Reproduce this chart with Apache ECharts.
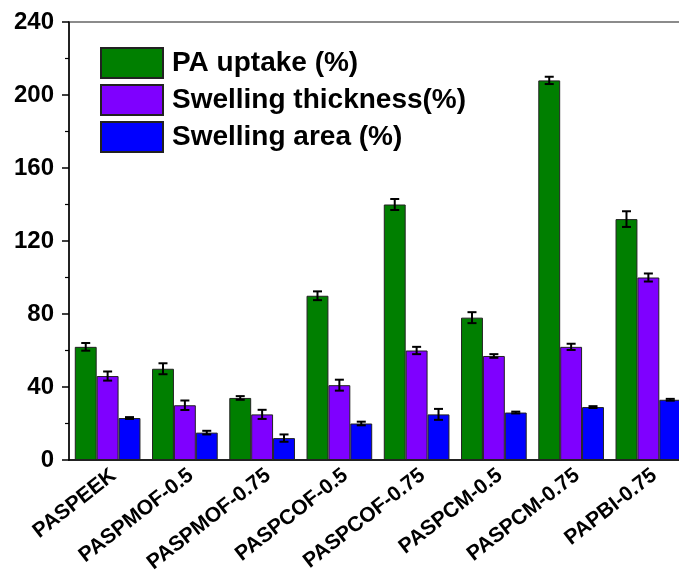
<!DOCTYPE html>
<html>
<head>
<meta charset="utf-8">
<script src="https://cdn.jsdelivr.net/npm/echarts@6/dist/echarts.min.js"></script>
<style>html,body{margin:0;padding:0;background:#fff}#c{width:679px;height:576px}</style>
</head>
<body>
<div id="c"></div>
<script>
const categories = ['PASPEEK','PASPMOF-0.5','PASPMOF-0.75','PASPCOF-0.5','PASPCOF-0.75','PASPCM-0.5','PASPCM-0.75','PAPBI-0.75'];
const seriesNames = ['PA uptake (%)','Swelling thickness(%)','Swelling area (%)'];
const paUptake = [62, 50, 34, 90, 140, 78, 208, 132];
const paUptakeErr = [2.1, 3, 1, 2.4, 3, 3, 2, 4.3];
const swellThick = [46, 30, 25, 41, 60, 57, 62, 100];
const swellThickErr = [2.5, 2.6, 2.5, 3, 2, 1, 1.7, 2.2];
const swellArea = [23, 15, 12, 20, 25, 26, 29, 33];
const swellAreaErr = [0.5, 1, 2, 1, 3, 0.5, 0.5, 0.5];
const yTicks = [0, 40, 80, 120, 160, 200, 240];

const colors = ['#007F00', '#7F00FF', '#0000FF'];
const values = [paUptake, swellThick, swellArea];
const errs = [paUptakeErr, swellThickErr, swellAreaErr];
const GAP = 0.15;

const errData = [];
values.forEach((arr, s) => arr.forEach((v, i) => errData.push([i, v, errs[s][i], s])));

const chart = echarts.init(document.getElementById('c'), null, {renderer: 'canvas'});
const font = '"Liberation Sans", Arial, sans-serif';
const yMin = yTicks[0], yMax = yTicks[yTicks.length - 1];
chart.setOption({
  animation: false,
  backgroundColor: '#fff',
  grid: [
    {left: 69, width: 618, top: 22, bottom: 116, outerBoundsMode: 'none', containLabel: false, show: true, borderColor: '#666', borderWidth: 1.5, backgroundColor: 'transparent'},
    {left: 75, width: 618, top: 22, bottom: 116, outerBoundsMode: 'none', containLabel: false, show: false}
  ],
  legend: {
    data: seriesNames, orient: 'vertical', left: 100, top: 47, padding: 0,
    itemWidth: 62, itemHeight: 30, itemGap: 5, icon: 'rect',
    textStyle: {fontFamily: font, fontWeight: 'bold', fontSize: 28, color: '#000', padding: [0, 0, 0, 4]}
  },
  xAxis: [{
    type: 'category', data: categories, gridIndex: 0,
    axisLine: {lineStyle: {color: '#000', width: 1.5}},
    axisTick: {show: false},
    axisLabel: {show: false}
  }, {
    type: 'category', data: categories, gridIndex: 1,
    axisLine: {show: false},
    axisTick: {show: false},
    axisLabel: {rotate: 38, margin: 13, interval: 0, color: '#000', fontFamily: font, fontWeight: 'bold', fontSize: 21}
  }],
  yAxis: [{
    type: 'value', min: yMin, max: yMax, interval: 40, gridIndex: 0,
    axisLine: {show: true, lineStyle: {color: '#000', width: 1.5}},
    axisTick: {show: true, length: 7, lineStyle: {color: '#000', width: 1.5}},
    minorTick: {show: true, splitNumber: 2, length: 4, lineStyle: {color: '#000', width: 1.2}},
    splitLine: {show: false},
    axisLabel: {margin: 15, color: '#000', fontFamily: font, fontWeight: 'bold', fontSize: 24}
  }, {
    type: 'value', min: yMin, max: yMax, gridIndex: 1, show: false
  }],
  series: seriesNames.map((n, s) => ({
    name: n, type: 'bar', data: values[s],
    barGap: '0%', barCategoryGap: (GAP * 100) + '%',
    itemStyle: {color: colors[s], borderColor: '#222', borderWidth: 1}
  })).concat([{
    type: 'custom', z: 10, data: errData,
    encode: {x: 0, y: 1},
    renderItem: function (params, api) {
      const i = api.value(0), v = api.value(1), e = api.value(2), s = api.value(3);
      const band = api.size([1, 0])[0];
      const bw = band * (1 - GAP) / 3;
      const cx = api.coord([i, v])[0] + (s - 1) * bw;
      const yt = api.coord([i, v + e])[1];
      const yb = api.coord([i, v - e])[1];
      const hw = 4.5;
      const st = {stroke: '#000', lineWidth: 2};
      return {type: 'group', children: [
        {type: 'line', shape: {x1: cx, y1: yt, x2: cx, y2: yb}, style: st},
        {type: 'line', shape: {x1: cx - hw, y1: yt, x2: cx + hw, y2: yt}, style: st},
        {type: 'line', shape: {x1: cx - hw, y1: yb, x2: cx + hw, y2: yb}, style: st}
      ]};
    }
  }])
});
</script>
</body>
</html>
